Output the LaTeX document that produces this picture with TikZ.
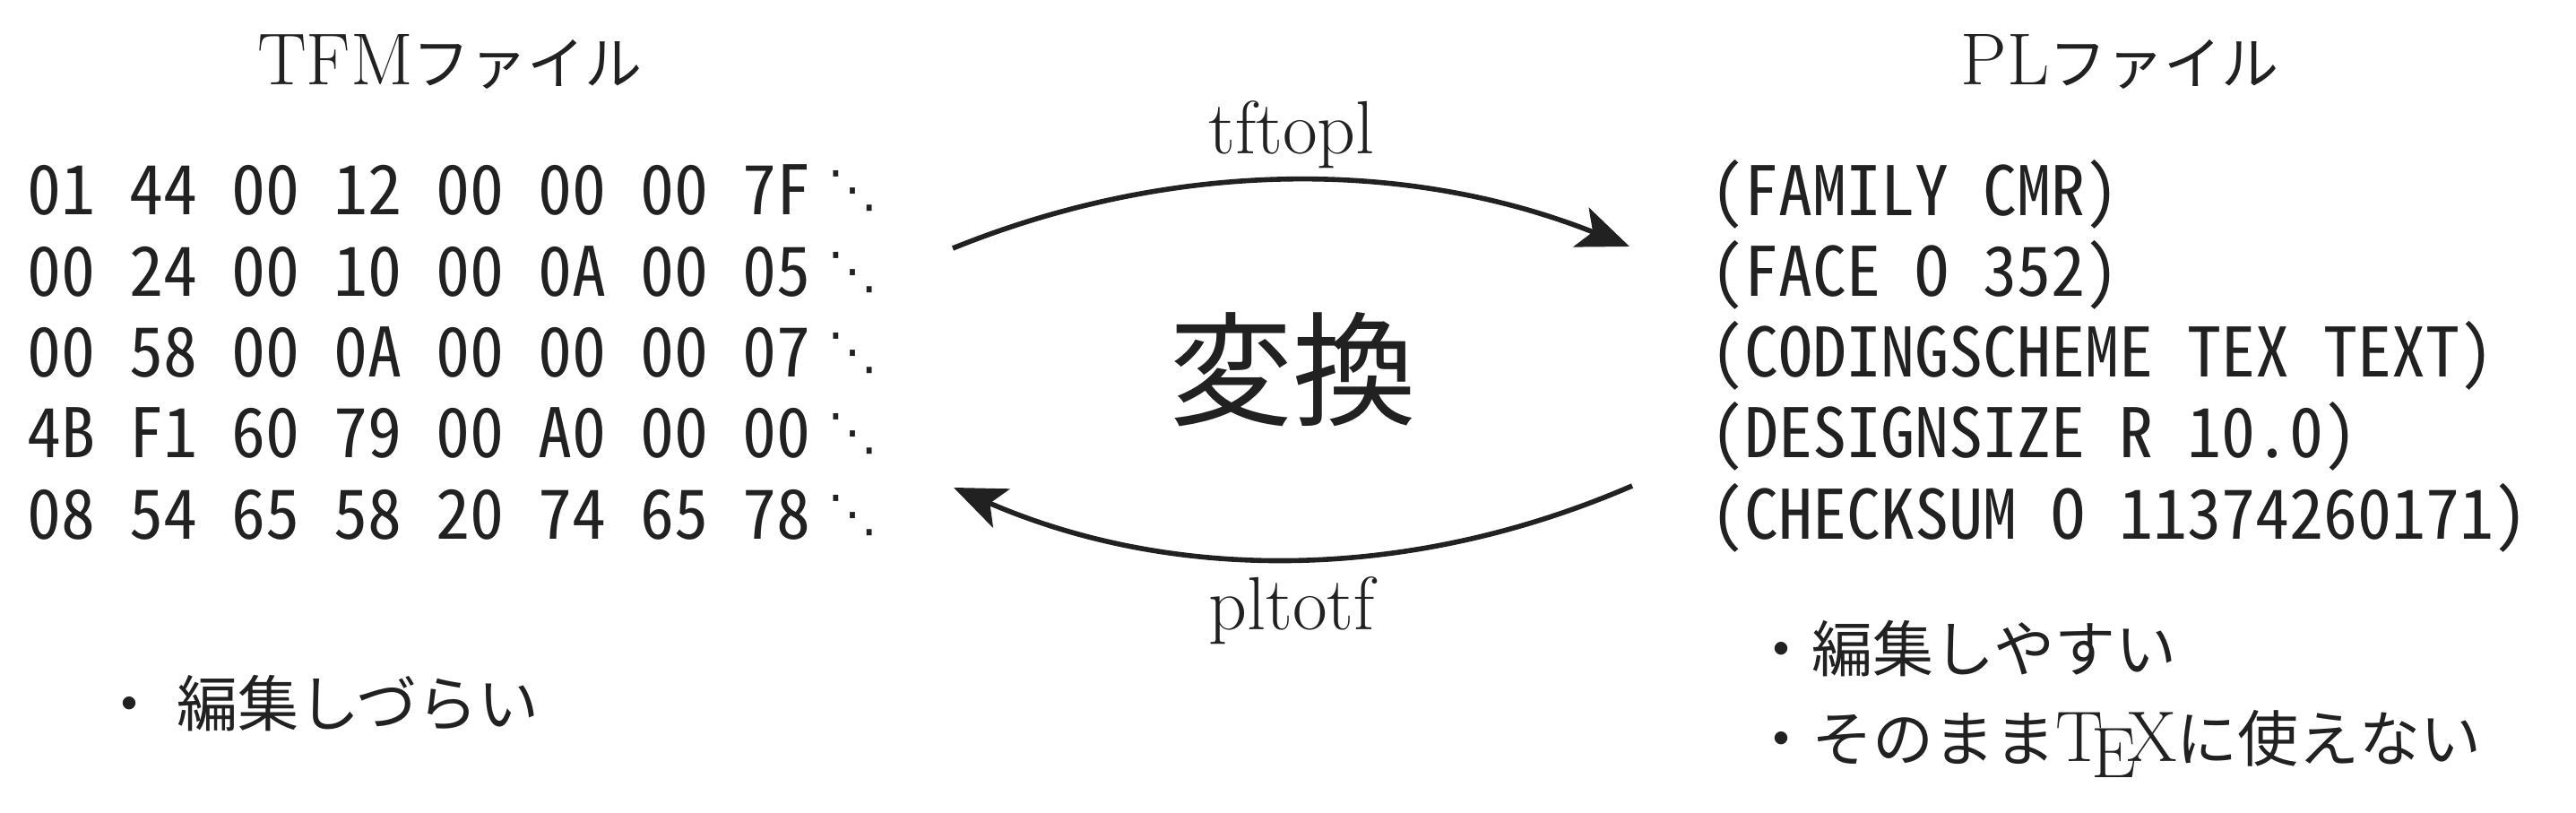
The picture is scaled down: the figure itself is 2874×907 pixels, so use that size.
\documentclass[tikz,border=0pt]{standalone}
\usepackage{fontspec}
\usetikzlibrary{arrows.meta}
\newfontfamily\jpfont{Noto Sans CJK JP}
\newfontfamily\hexfont{Noto Sans Mono CJK JP}
\newfontfamily\symfont{DejaVu Sans}
\definecolor{ink}{gray}{0.13}
\begin{document}
\begin{tikzpicture}[x=0.25pt,y=-0.25pt,
  txt/.style={inner sep=0pt, outer sep=0pt, text=ink},
  ttl/.style={txt, anchor=base, font=\fontsize{20.5}{24}\selectfont},
  mono/.style={txt, anchor=base west, font=\hexfont\fontsize{19}{22}\selectfont},
  dotsn/.style={txt, font=\symfont\fontsize{14}{16}\selectfont},
  cmd/.style={txt, anchor=base, font=\fontsize{21}{24}\selectfont},
  bigjp/.style={txt, font=\jpfont\fontsize{34.5}{40}\selectfont},
  bul/.style={txt, anchor=base west, font=\jpfont\fontsize{17}{20}\selectfont},
  conn/.style={draw=ink, line width=1.4pt, -{Stealth[length=14.5pt,width=11.75pt,inset=3.5pt]}}
]
\useasboundingbox (0,0) rectangle (2874,907);
% titles
\node[ttl] (tfmtitle) at (502,95) {TFM{\jpfont\fontsize{16}{20}\selectfont ファイル}};
\node[ttl] (pltitle) at (2365,95) {PL{\jpfont\fontsize{16}{20}\selectfont ファイル}};
% hex rows
\node[mono] (h1) at (31,240) {01 44 00 12 00 00 00 7F};
\node[mono] (h2) at (31,331) {00 24 00 10 00 0A 00 05};
\node[mono] (h3) at (31,421) {00 58 00 0A 00 00 00 07};
\node[mono] (h4) at (31,511) {4B F1 60 79 00 A0 00 00};
\node[mono] (h5) at (31,602) {08 54 65 58 20 74 65 78};
\foreach \i/\y in {1/213,2/304,3/394,4/484,5/575}
  \node[dotsn] (d\i) at (951,\y) {⋱};
% PL rows
\node[mono] (p1) at (1908,241) {(FAMILY CMR)};
\node[mono] (p2) at (1908,331) {(FACE O 352)};
\node[mono] (p3) at (1908,421) {(CODINGSCHEME TEX TEXT)};
\node[mono] (p4) at (1908,511) {(DESIGNSIZE R 10.0)};
\node[mono] (p5) at (1908,602) {(CHECKSUM O 11374260171)};
% centre
\node[bigjp] (conv) at (1442,412) {変換};
\node[cmd] (tftopl) at (1441,172) {tftopl};
\node[cmd] (pltotf) at (1441,703) {pltotf};
% arrows
\coordinate (u1) at (1063,277);
\coordinate (u2) at (1818,275);
\coordinate (l1) at (1821,542);
\coordinate (l2) at (1064,544);
\draw[conn] (u1) .. controls (1310,177) and (1571,177) .. (u2);
\draw[conn] (l1) .. controls (1574,649) and (1311,651) .. (l2);
% bullets
\node[bul] (b1) at (110,811) {・\hspace{5pt}編集しづらい};
\node[bul] (b2) at (1953,750) {・編集しやすい};
\node[bul] (b3) at (1953,850) {・そのまま{\rmfamily\fontsize{20}{24}\selectfont\TeX}に使えない};
\end{tikzpicture}
\end{document}
